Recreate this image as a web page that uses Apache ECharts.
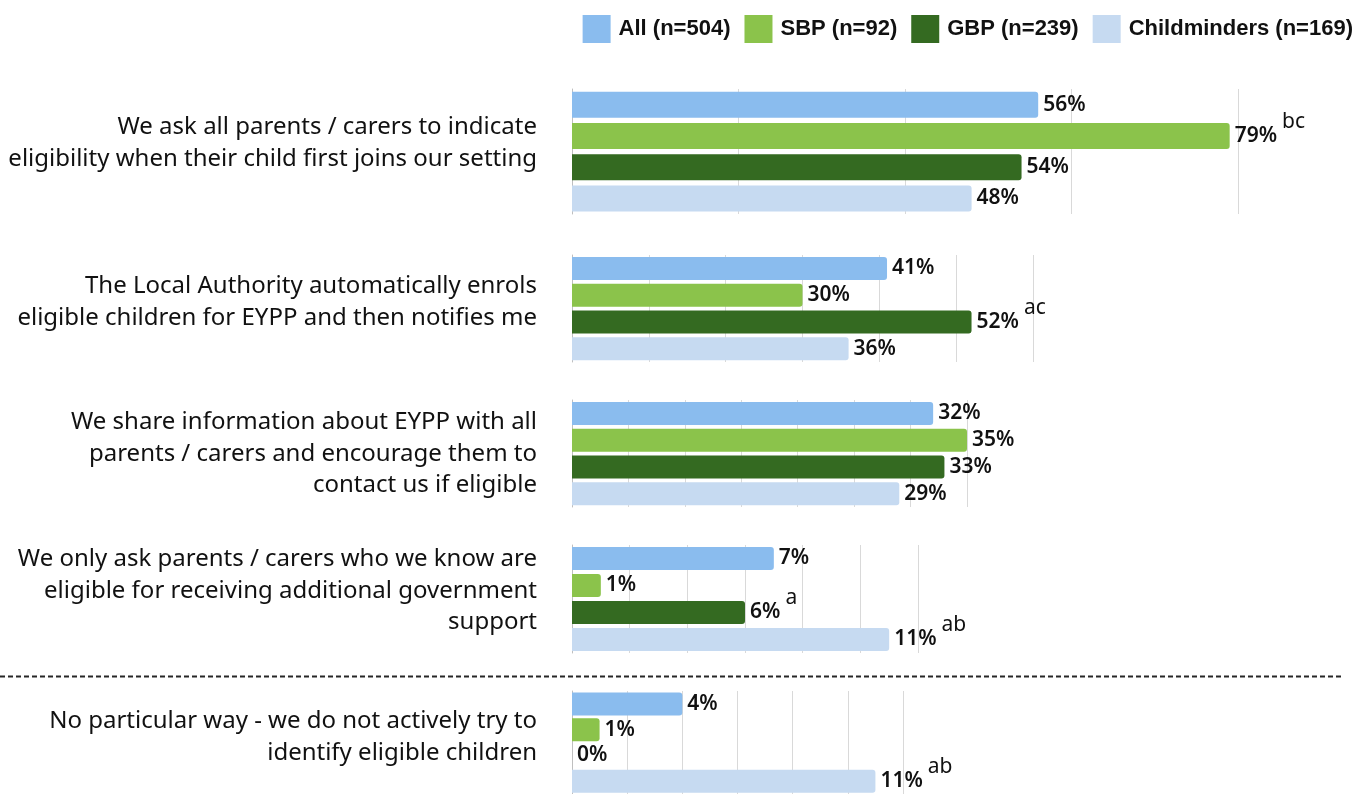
<!DOCTYPE html>
<html>
<head>
<meta charset="utf-8">
<script src="https://cdn.jsdelivr.net/npm/echarts@6/dist/echarts.min.js"></script>
<style>
  html, body { margin: 0; padding: 0; background: #ffffff; }
  #chart { width: 1370px; height: 794px; }
</style>
</head>
<body>
<div id="chart"></div>
<script>
// Respondent groups (legend) and their bar colours
const groupNames = ['All (n=504)', 'SBP (n=92)', 'GBP (n=239)', 'Childminders (n=169)'];
const groupColors = ['#8abcee', '#8bc34b', '#346a21', '#c6daf1'];

// Ways settings identify EYPP-eligible children
const questions = [
  'We ask all parents / carers to indicate\neligibility when their child first joins our setting',
  'The Local Authority automatically enrols\neligible children for EYPP and then notifies me',
  'We share information about EYPP with all\nparents / carers and encourage them to\ncontact us if eligible',
  'We only ask parents / carers who we know are\neligible for receiving additional government\nsupport',
  'No particular way - we do not actively try to\nidentify eligible children'
];

// Percentages per group, one entry per question
const allValues = [56, 41, 32, 7, 4];
const sbpValues = [79, 30, 35, 1, 1];
const gbpValues = [54, 52, 33, 6, 0];
const cmValues = [48, 36, 29, 11, 11];

// Significance letters shown after the value
const allSig = ['', '', '', '', ''];
const sbpSig = ['bc', '', '', '', ''];
const gbpSig = ['', 'ac', '', 'a', ''];
const cmSig = ['', '', '', 'ab', 'ab'];

// Each question panel has its own value scale
const axisMax = [80, 60, 35, 12, 12];
const axisInterval = [20, 10, 5, 2, 2];

const valuesByGroup = [allValues, sbpValues, gbpValues, cmValues];
const sigByGroup = [allSig, sbpSig, gbpSig, cmSig];

// Panel layout
const panelLeft = 572;
const panelWidth = [666, 461, 395, 346, 331];
const panelTop = [89, 255, 400, 545, 691];
const panelHeight = [125, 107, 107, 108, 108];
const panelBarWidth = [26, 23, 23, 23, 23];
const questionY = [143, 302, 454, 591, 737];

const legendFont = '"Liberation Sans", Arial, sans-serif';
const textFont = '"Noto Sans", sans-serif';

const grids = [], xAxes = [], yAxes = [], series = [], graphics = [];

questions.forEach((q, p) => {
  grids.push({ left: panelLeft, top: panelTop[p], width: panelWidth[p], height: panelHeight[p] });
  xAxes.push({
    type: 'value', gridIndex: p, min: 0, max: axisMax[p], interval: axisInterval[p],
    axisLabel: { show: false }, axisLine: { show: false }, axisTick: { show: false },
    splitLine: { show: true, lineStyle: { color: '#d9d9d9', width: 1 } }
  });
  yAxes.push({
    type: 'category', gridIndex: p, inverse: true,
    data: ['All', 'SBP', 'GBP', 'Childminders'],
    axisLabel: { show: false }, axisTick: { show: false },
    axisLine: { show: true, lineStyle: { color: '#bfbfbf', width: 1 } }
  });
  groupNames.forEach((name, g) => {
    const data = [0, 1, 2, 3].map(i => (i === g ? valuesByGroup[g][p] : '-'));
    series.push({
      type: 'bar', name: name, xAxisIndex: p, yAxisIndex: p,
      barWidth: panelBarWidth[p], barGap: '-100%',
      itemStyle: { color: groupColors[g], borderRadius: [0, 3, 3, 0] },
      data: data,
      label: {
        show: true, position: 'right', distance: 5,
        formatter: (params) => {
          const sig = sigByGroup[g][p];
          return sig ? '{v|' + params.value + '%}{s|' + sig + '}' : '{v|' + params.value + '%}';
        },
        rich: {
          v: { fontFamily: textFont, fontSize: 21, fontWeight: 600, color: '#111111' },
          s: { fontFamily: textFont, fontSize: 21, color: '#111111', padding: [0, 0, 28, 5] }
        }
      }
    });
  });
  graphics.push({
    type: 'text', x: 537, y: questionY[p],
    style: {
      text: q, align: 'right', verticalAlign: 'middle',
      font: '24px ' + textFont, lineHeight: 31.5, fill: '#111111'
    }
  });
});

// Separator between the active approaches and "no particular way"
graphics.push({
  type: 'line',
  shape: { x1: 0, y1: 676.5, x2: 1342, y2: 676.5 },
  style: { stroke: '#262626', lineWidth: 2, lineDash: [5, 3] }
});

const chart = echarts.init(document.getElementById('chart'), null, { renderer: 'canvas' });
chart.setOption({
  backgroundColor: '#ffffff',
  animation: false,
  legend: {
    data: groupNames, top: 10, right: 12,
    itemWidth: 28, itemHeight: 28, itemGap: 14, icon: 'rect',
    textStyle: { fontFamily: legendFont, fontSize: 22, fontWeight: 'bold', color: '#111111', padding: [0, 0, 0, 3] }
  },
  grid: grids,
  xAxis: xAxes,
  yAxis: yAxes,
  series: series,
  graphic: graphics
});
</script>
</body>
</html>
